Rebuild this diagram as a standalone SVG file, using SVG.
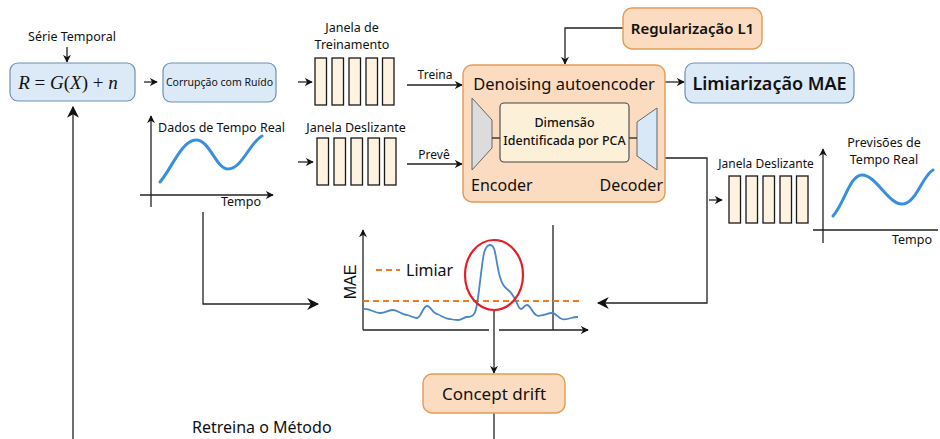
<svg xmlns="http://www.w3.org/2000/svg" width="940" height="439" viewBox="0 0 940 439">
<defs>
<style>
text{font-family:"Noto Sans","Open Sans","DejaVu Sans",sans-serif;fill:#111}
.blue{fill:#dce9f6;stroke:#6f90b4;stroke-width:1.2}
.orange{fill:#fbdcc0;stroke:#e39a55;stroke-width:1.4}
.win{fill:#fdf3e0;stroke:#1a1a1a;stroke-width:1.3}
.ln{fill:none;stroke:#222;stroke-width:1.3}
.curve{fill:none;stroke:#3a8fdc;stroke-width:3;stroke-linecap:round}
</style>
<marker id="ah" viewBox="0 0 10 10" refX="9" refY="5" markerWidth="8" markerHeight="8" orient="auto-start-reverse" markerUnits="userSpaceOnUse">
<path d="M0,0 L10,5 L0,10 L3,5 z" fill="#111"/>
</marker>
<marker id="ahL" viewBox="0 0 10 10" refX="9" refY="5" markerWidth="12" markerHeight="12" orient="auto" markerUnits="userSpaceOnUse">
<path d="M0,0 L10,5 L0,10 L3,5 z" fill="#111"/>
</marker>
</defs>
<rect width="940" height="439" fill="#fff"/>

<g id="connectors">
<line class="ln" x1="67" y1="47" x2="67" y2="62" marker-end="url(#ah)"/>
<line class="ln" x1="144" y1="82" x2="157" y2="82" marker-end="url(#ah)"/>
<line class="ln" x1="298" y1="82" x2="312" y2="82" marker-end="url(#ah)"/>
<line class="ln" x1="298" y1="162" x2="313" y2="162" marker-end="url(#ah)"/>
<line class="ln" x1="407" y1="85" x2="462" y2="85" marker-end="url(#ah)"/>
<line class="ln" x1="407" y1="164" x2="462" y2="164" marker-end="url(#ah)"/>
<polyline class="ln" points="623,28 565,28 565,64" marker-end="url(#ah)"/>
<line class="ln" x1="665" y1="82" x2="684" y2="82" marker-end="url(#ah)"/>
<polyline class="ln" points="665,158 707,158 707,303 598,303" marker-end="url(#ahL)"/>
<line class="ln" x1="709" y1="200" x2="722" y2="200" marker-end="url(#ah)"/>
<polyline class="ln" points="203,212 203,304 318,304" marker-end="url(#ahL)"/>
<line class="ln" x1="494" y1="310" x2="494" y2="373" marker-end="url(#ah)"/>
<line class="ln" x1="494" y1="413" x2="494" y2="439"/>
<line class="ln" x1="73" y1="439" x2="73" y2="107" marker-end="url(#ahL)"/>
</g>

<g id="serie-temporal">
<text x="72" y="41" font-size="12.5" text-anchor="middle">Série Temporal</text>
</g>

<g id="equation">
<rect class="blue" x="10" y="63" width="125" height="38" rx="8"/>
<text x="68" y="89" font-size="19" text-anchor="middle" style="font-family:'Liberation Serif','DejaVu Serif',serif" font-style="italic">R<tspan font-style="normal"> = </tspan>G<tspan font-style="normal">(</tspan>X<tspan font-style="normal">) + </tspan>n</text>
</g>

<g id="corrupcao">
<rect class="blue" x="163" y="63" width="113" height="39" rx="8"/>
<text x="219.5" y="86" font-size="10.5" text-anchor="middle">Corrupção com Ruído</text>
</g>

<g id="janela-treinamento">
<text x="352" y="32" font-size="12.5" text-anchor="middle">Janela de</text>
<text x="352" y="49" font-size="12.5" text-anchor="middle">Treinamento</text>
<rect class="win" x="315" y="58" width="11.5" height="47"/>
<rect class="win" x="332" y="58" width="11.5" height="47"/>
<rect class="win" x="349" y="58" width="11.5" height="47"/>
<rect class="win" x="366" y="58" width="11.5" height="47"/>
<rect class="win" x="382.5" y="58" width="11.5" height="47"/>
<text x="435" y="79" font-size="12" text-anchor="middle">Treina</text>
</g>

<g id="janela-deslizante-1">
<text x="356" y="132" font-size="12.5" text-anchor="middle">Janela Deslizante</text>
<rect class="win" x="317" y="138" width="11.5" height="47"/>
<rect class="win" x="334" y="138" width="11.5" height="47"/>
<rect class="win" x="351" y="138" width="11.5" height="47"/>
<rect class="win" x="368" y="138" width="11.5" height="47"/>
<rect class="win" x="384.5" y="138" width="11.5" height="47"/>
<text x="434" y="159" font-size="12" text-anchor="middle">Prevê</text>
</g>

<g id="dados-tempo-real">
<line class="ln" x1="151" y1="207" x2="151" y2="116" marker-end="url(#ah)"/>
<line class="ln" x1="140" y1="195" x2="273" y2="195" marker-end="url(#ah)"/>
<text x="158" y="132" font-size="12.5">Dados de Tempo Real</text>
<text x="241" y="206" font-size="12.5" text-anchor="middle">Tempo</text>
<path class="curve" d="M160,182 C172,168 182,140 196,140 C210,140 216,169 228,169 C242,169 250,142 262,136"/>
</g>

<g id="denoising-autoencoder">
<rect class="orange" x="463" y="65" width="202" height="137" rx="9"/>
<text x="564" y="90" font-size="16.5" text-anchor="middle">Denoising autoencoder</text>
<polygon points="472,98 492,120 492,148 472,170" fill="#dcdcdc" stroke="#666" stroke-width="1"/>
<polygon points="657,108 637,122 637,156 657,170" fill="#d8e8f6" stroke="#666" stroke-width="1"/>
<line class="ln" x1="492" y1="138" x2="500" y2="138" stroke-width="1"/>
<line class="ln" x1="629" y1="138" x2="637" y2="138" stroke-width="1"/>
<rect x="500" y="103" width="129" height="59" rx="4" fill="#fdf0d8" stroke="#444" stroke-width="1.1"/>
<text x="564.5" y="127" font-size="12.5" font-weight="500" text-anchor="middle">Dimensão</text>
<text x="564.5" y="145" font-size="12.5" font-weight="500" text-anchor="middle">Identificada por PCA</text>
<text x="471" y="191" font-size="16">Encoder</text>
<text x="663" y="191" font-size="16" text-anchor="end">Decoder</text>
</g>

<g id="regularizacao">
<rect class="orange" x="623" y="8" width="139" height="41" rx="9"/>
<text x="692.5" y="34" font-size="15" font-weight="600" text-anchor="middle">Regularização L1</text>
</g>

<g id="limiarizacao">
<rect class="blue" x="685" y="63" width="169" height="40" rx="9"/>
<text x="769.5" y="90" font-size="18" font-weight="600" text-anchor="middle">Limiarização MAE</text>
</g>

<g id="janela-deslizante-2">
<text x="766" y="168" font-size="12" text-anchor="middle">Janela Deslizante</text>
<rect class="win" x="729" y="176" width="11.5" height="47"/>
<rect class="win" x="746" y="176" width="11.5" height="47"/>
<rect class="win" x="763" y="176" width="11.5" height="47"/>
<rect class="win" x="780" y="176" width="11.5" height="47"/>
<rect class="win" x="796.5" y="176" width="11.5" height="47"/>
</g>

<g id="previsoes">
<line class="ln" x1="823" y1="243" x2="823" y2="149" marker-end="url(#ah)"/>
<line class="ln" x1="813" y1="230" x2="938" y2="230"/>
<text x="884" y="147" font-size="12.5" text-anchor="middle">Previsões de</text>
<text x="884" y="164" font-size="12.5" text-anchor="middle">Tempo Real</text>
<text x="912" y="244" font-size="12.5" text-anchor="middle">Tempo</text>
<path class="curve" d="M833,216 C845,202 850,175 862,175 C876,175 888,204 902,204 C916,204 922,176 933,170"/>
</g>

<g id="mae-chart">
<line class="ln" x1="363" y1="330" x2="363" y2="230" marker-end="url(#ah)"/>
<line class="ln" x1="363" y1="330" x2="489" y2="330"/>
<line class="ln" x1="499" y1="330" x2="588" y2="330" marker-end="url(#ah)"/>
<line class="ln" x1="553" y1="225" x2="553" y2="330"/>
<line x1="363" y1="301" x2="580" y2="301" stroke="#f07a1e" stroke-width="2" stroke-dasharray="6,4"/>
<line x1="376" y1="270" x2="400" y2="270" stroke="#f07a1e" stroke-width="2" stroke-dasharray="6,4"/>
<text x="406" y="276" font-size="16">Limiar</text>
<text transform="translate(356,282) rotate(-90)" font-size="16" text-anchor="middle" style="font-family:'Liberation Sans',Arial,sans-serif">MAE</text>
<path fill="none" stroke="#4a86c8" stroke-width="1.8" stroke-linejoin="round" d="M363,309 C370,308 374,313 380,313 C386,313 388,310 393,310 C398,310 402,315 407,315 C411,316 414,318 417,318 C421,318 423,306 427,306 C431,306 432,313 437,314 C442,316 446,319 450,319 C454,320 455,320 458,320 C462,320 464,317 467,317 C470,317 472,317 474,314 C476,312 477,305 478,298 C480,284 482,262 484,253 C486,246 488,245 490,245 C492,245 494,247 495,252 C497,262 498,271 500,277 C502,284 504,287 507,289 C510,291 513,295 516,301 C518,305 519,309 521,309 C523,309 524,305 527,305 C530,305 532,312 536,315 C539,317 541,315 544,315 C547,314 549,313 552,313 C556,313 558,318 562,319 C565,320 568,319 571,318 C574,317 576,317 578,317"/>
<ellipse cx="494" cy="275" rx="29" ry="35" fill="none" stroke="#e3202a" stroke-width="2.2"/>
</g>

<g id="concept-drift">
<rect class="orange" x="423" y="374" width="142" height="39" rx="9"/>
<text x="494" y="400" font-size="17" text-anchor="middle">Concept drift</text>
</g>

<g id="retreina">
<text x="192" y="433" font-size="16">Retreina o Método</text>
</g>
</svg>
